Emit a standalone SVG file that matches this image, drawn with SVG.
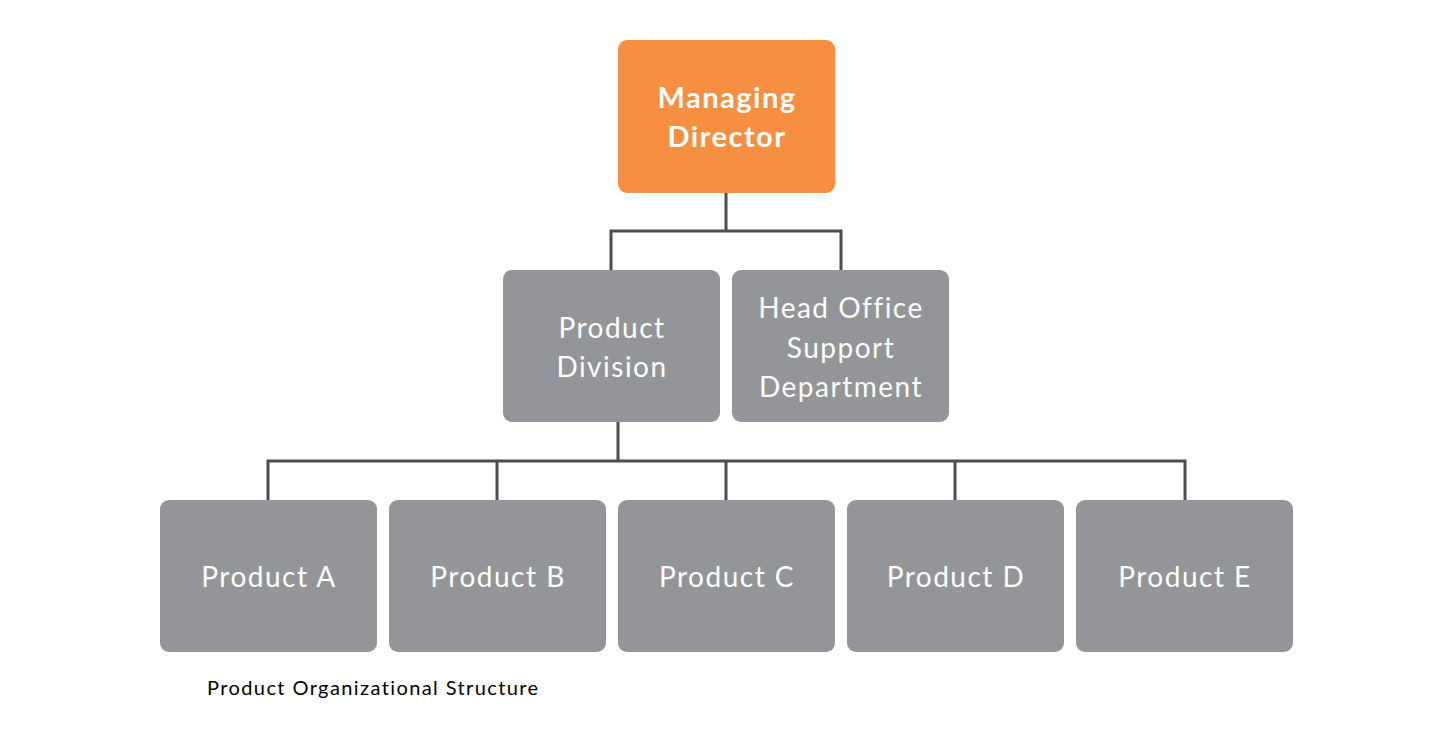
<svg xmlns="http://www.w3.org/2000/svg" width="1448" height="741" viewBox="0 0 1448 741">
<style>
.box{fill:#939598}
.top{fill:#f68f41}
.t{font-family:Lato,"Noto Sans",sans-serif;fill:#fff;font-size:28px;letter-spacing:1.5px;text-anchor:middle}
.tb{font-family:Lato,"Noto Sans",sans-serif;fill:#fff;font-size:29px;font-weight:bold;letter-spacing:1.5px;text-anchor:middle}
.cap{font-family:Lato,"Noto Sans",sans-serif;fill:#000;font-size:20px;letter-spacing:1.4px}
.c{fill:none;stroke:#4d4d4f;stroke-width:3}
</style>
<rect width="1448" height="741" fill="#fff"/>
<g id="connectors">
<path class="c" d="M726 193V231M611 270V231H841V270"/>
<path class="c" d="M618 422V461M268 500V461H1185V500M497 461V500M726 461V500M955 461V500"/>
</g>
<g id="managing-director">
<rect class="top" x="618" y="40" width="217" height="153" rx="9"/>
<text class="tb" x="727" y="108">Managing</text>
<text class="tb" x="727" y="147">Director</text>
</g>
<g id="product-division">
<rect class="box" x="503" y="270" width="217" height="152" rx="9"/>
<text class="t" x="612" y="338">Product</text>
<text class="t" x="612" y="377">Division</text>
</g>
<g id="head-office">
<rect class="box" x="732" y="270" width="217" height="152" rx="9"/>
<text class="t" x="841" y="318">Head Office</text>
<text class="t" x="841" y="358">Support</text>
<text class="t" x="841" y="397">Department</text>
</g>
<g id="product-a">
<rect class="box" x="160" y="500" width="217" height="152" rx="9"/>
<text class="t" x="269" y="587">Product A</text>
</g>
<g id="product-b">
<rect class="box" x="389" y="500" width="217" height="152" rx="9"/>
<text class="t" x="498" y="587">Product B</text>
</g>
<g id="product-c">
<rect class="box" x="618" y="500" width="217" height="152" rx="9"/>
<text class="t" x="727" y="587">Product C</text>
</g>
<g id="product-d">
<rect class="box" x="847" y="500" width="217" height="152" rx="9"/>
<text class="t" x="956" y="587">Product D</text>
</g>
<g id="product-e">
<rect class="box" x="1076" y="500" width="217" height="152" rx="9"/>
<text class="t" x="1185" y="587">Product E</text>
</g>
<text class="cap" x="207" y="695">Product Organizational Structure</text>
</svg>
